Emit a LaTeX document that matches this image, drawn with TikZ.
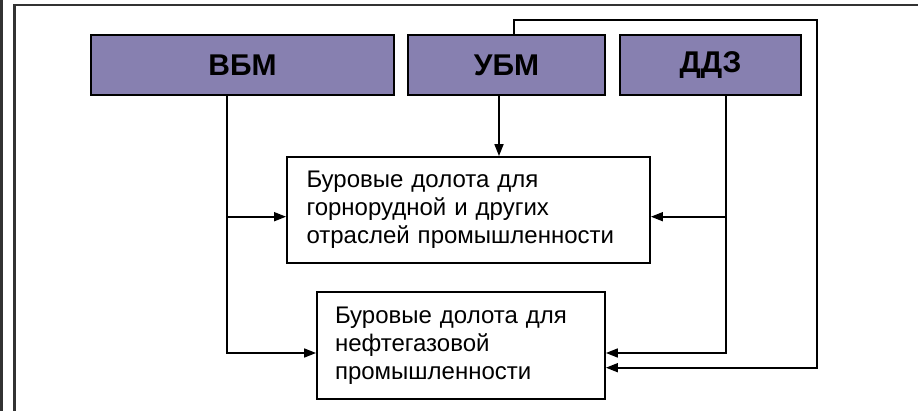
\documentclass[tikz,border=0pt]{standalone}
\usepackage{fontspec}
\setmainfont{Liberation Sans}
\usetikzlibrary{arrows.meta}
\definecolor{boxpurple}{RGB}{135,128,176}
\definecolor{framegray}{RGB}{50,50,50}
\tikzset{
  topbox/.style={draw=black, line width=2pt, fill=boxpurple, inner sep=0pt,
    minimum height=60pt, font=\fontsize{30pt}{34pt}\selectfont\bfseries},
  textbox/.style={draw=black, line width=1.8pt, fill=white, inner ysep=0pt,
    align=left, font=\fontsize{24pt}{28pt}\selectfont},
  conn/.style={line width=1.7pt, draw=black},
  arr/.style={conn, -{Triangle[length=12pt,width=9pt]}},
  framel/.style={line width=2.2pt, draw=framegray}
}
\begin{document}
\begin{tikzpicture}[x=1pt,y=-1pt]
\useasboundingbox (0,0) rectangle (918,411);
% frame
\draw[framel] (1.5,0) -- (1.5,411);
\draw[framel] (14.5,411) -- (14.5,5) -- (918,5);
% top boxes
\node[topbox, minimum width=303pt] (vbm) at (242.5,65) {ВБМ};
\node[topbox, minimum width=197pt] (ubm) at (506.5,65) {УБМ};
\node[topbox, minimum width=181pt] (ddz) at (710.5,65) {ДДЗ};
% target boxes
\node[textbox, minimum width=363pt, minimum height=106pt, text width=324pt, inner xsep=19.5pt] (b1) at (468.5,210)
  {Буровые долота для\\горнорудной и других\\отраслей промышленности};
\node[textbox, minimum width=288pt, minimum height=107pt, text width=252pt, inner xsep=18pt] (b2) at (461,345.5)
  {Буровые долота для\\нефтегазовой\\промышленности};
% helper coordinates
\coordinate (vb) at ([xshift=-15.2pt]vbm.south);
\coordinate (ub) at ([xshift=-7.5pt]ubm.south);
\coordinate (ut) at ([xshift=7.5pt]ubm.north);
\coordinate (db) at ([xshift=15.2pt]ddz.south);
\coordinate (b1l) at ([yshift=-6.7pt]b1.west);
\coordinate (b1r) at ([yshift=-6.7pt]b1.east);
\coordinate (b2l) at ([yshift=-7.5pt]b2.west);
\coordinate (b2r) at ([yshift=-7.5pt]b2.east);
\coordinate (b2f) at ([yshift=-22.2pt]b2.east);
\coordinate (fb) at (817,20);
% connectors
\draw[arr] (vb) |- (b2l);
\draw[arr] (vb |- b1l) -- (b1l);
\draw[arr] (ub) -- (ub |- b1.north);
\draw[arr] (db) |- (b2r);
\draw[arr] (db |- b1r) -- (b1r);
\draw[arr] (ut) |- (fb) |- (b2f);
\end{tikzpicture}
\end{document}
